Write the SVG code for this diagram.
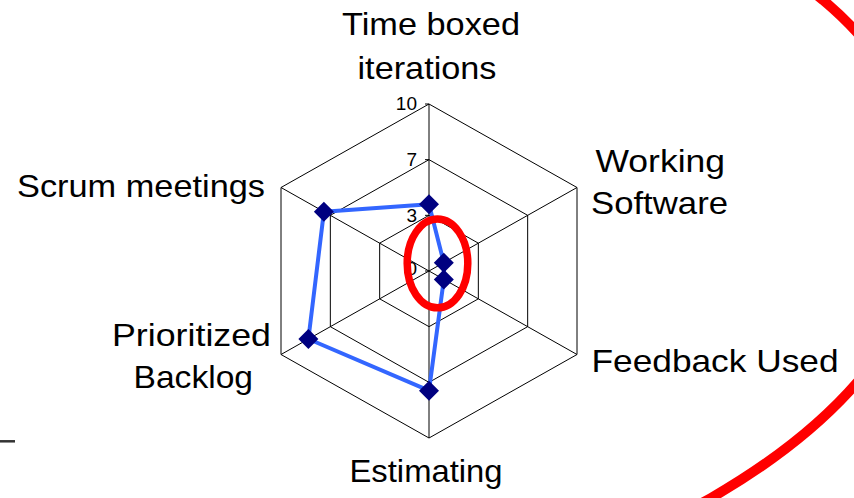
<svg xmlns="http://www.w3.org/2000/svg" width="854" height="498" viewBox="0 0 854 498">
  <style>
    .grid { fill: none; stroke: #000; stroke-width: 1; }
    .spoke { stroke: #000; stroke-width: 1; }
    .cat { font-family: "Liberation Sans", Arial, sans-serif; font-size: 32px; fill: #000; }
    .val { font-family: "Liberation Sans", Arial, sans-serif; font-size: 19px; fill: #000; text-anchor: end; }
    .series { fill: none; stroke: #3366FF; stroke-width: 4; stroke-linejoin: round; }
    .mark { fill: #000080; }
    .hl { fill: none; stroke: #FF0000; }
  </style>
  <defs>
    <path id="dia" d="M0,-10 L10,0 L0,10 L-10,0 Z"/>
  </defs>
  <rect x="0" y="0" width="854" height="498" fill="#fff"/>

  <g id="grid">
    <polygon class="grid" points="429,215.33 478.33,243.17 478.33,298.83 429,326.67 379.67,298.83 379.67,243.17"/>
    <polygon class="grid" points="429,159.67 527.67,215.33 527.67,326.67 429,382.33 330.33,326.67 330.33,215.33"/>
    <polygon class="grid" points="429,104 577,187.5 577,354.5 429,438 281,354.5 281,187.5"/>
    <line class="spoke" x1="429" y1="271" x2="429" y2="104"/>
    <line class="spoke" x1="429" y1="271" x2="577" y2="187.5"/>
    <line class="spoke" x1="429" y1="271" x2="577" y2="354.5"/>
    <line class="spoke" x1="429" y1="271" x2="429" y2="438"/>
    <line class="spoke" x1="429" y1="271" x2="281" y2="354.5"/>
    <line class="spoke" x1="429" y1="271" x2="281" y2="187.5"/>
    <line class="spoke" x1="425" y1="104" x2="429" y2="104"/>
    <line class="spoke" x1="425" y1="159.67" x2="429" y2="159.67"/>
    <line class="spoke" x1="425" y1="215.33" x2="429" y2="215.33"/>
    <line class="spoke" x1="425" y1="271" x2="429" y2="271"/>
  </g>

  <g id="axis-values">
    <text class="val" x="417" y="109.5">10</text>
    <text class="val" x="417" y="166">7</text>
    <text class="val" x="417" y="221.7">3</text>
    <text class="val" x="417" y="275">0</text>
  </g>

  <g id="category-labels">
    <g id="label-time-boxed">
      <text class="cat" x="342" y="35" textLength="178" lengthAdjust="spacingAndGlyphs">Time boxed</text>
      <text class="cat" x="357.5" y="79.3" textLength="139" lengthAdjust="spacingAndGlyphs">iterations</text>
    </g>
    <g id="label-working-software">
      <text class="cat" x="595.5" y="171.7" textLength="129.5" lengthAdjust="spacingAndGlyphs">Working</text>
      <text class="cat" x="591" y="214" textLength="137" lengthAdjust="spacingAndGlyphs">Software</text>
    </g>
    <g id="label-feedback-used">
      <text class="cat" x="591.5" y="372.3" textLength="247" lengthAdjust="spacingAndGlyphs">Feedback Used</text>
    </g>
    <g id="label-estimating">
      <text class="cat" x="349.5" y="482.3" textLength="153" lengthAdjust="spacingAndGlyphs">Estimating</text>
    </g>
    <g id="label-prioritized-backlog">
      <text class="cat" x="112" y="346" textLength="159" lengthAdjust="spacingAndGlyphs">Prioritized</text>
      <text class="cat" x="133.5" y="388.3" textLength="119.5" lengthAdjust="spacingAndGlyphs">Backlog</text>
    </g>
    <g id="label-scrum-meetings">
      <text class="cat" x="17" y="197.3" textLength="248" lengthAdjust="spacingAndGlyphs">Scrum meetings</text>
    </g>
  </g>

  <g id="series">
    <polygon class="series" points="429,204.2 443.8,262.7 443.8,279.4 429,390.7 308.4,339 323.9,211.7"/>
    <use href="#dia" class="mark" x="429" y="204.2"/>
    <use href="#dia" class="mark" x="443.8" y="262.7"/>
    <use href="#dia" class="mark" x="443.8" y="279.4"/>
    <use href="#dia" class="mark" x="429" y="390.7"/>
    <use href="#dia" class="mark" x="308.4" y="339"/>
    <use href="#dia" class="mark" x="323.9" y="211.7"/>
  </g>

  <g id="highlight-small">
    <ellipse class="hl" cx="437.5" cy="263.4" rx="30.3" ry="44.4" stroke-width="7.5"/>
  </g>
  <g id="highlight-large">
    <path class="hl" stroke-width="10" d="M815,-6.4 L823,0 C976,129 988,338 711,498 L702,503"/>
  </g>
  <line x1="0" y1="441.3" x2="15" y2="441.3" stroke="#333" stroke-width="2.5"/>
</svg>
